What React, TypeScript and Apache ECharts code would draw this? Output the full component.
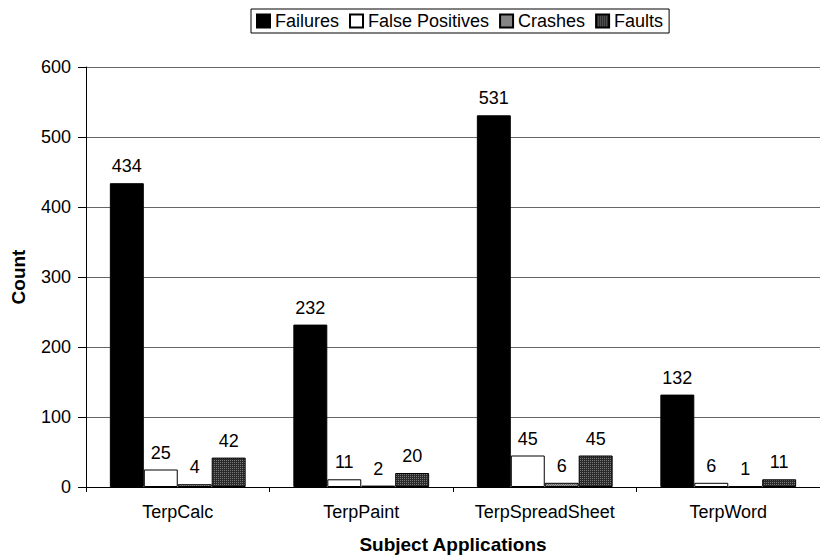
import React, { useEffect, useRef } from "react";
import * as echarts from "echarts";

const categories = ["TerpCalc", "TerpPaint", "TerpSpreadSheet", "TerpWord"];
const seriesNames = ["Failures", "False Positives", "Crashes", "Faults"];
const failures = [434, 232, 531, 132];
const falsePositives = [25, 11, 45, 6];
const crashes = [4, 2, 6, 1];
const faults = [42, 20, 45, 11];
const yTicks = { min: 0, max: 600, interval: 100 };

function makePattern(draw: (ctx: CanvasRenderingContext2D) => void, size: number): string {
  const c = document.createElement("canvas");
  c.width = size;
  c.height = size;
  const ctx = c.getContext("2d")!;
  draw(ctx);
  return c.toDataURL();
}

export default function App() {
  const ref = useRef<HTMLDivElement>(null);
  useEffect(() => {
    if (!ref.current) return;
    const chart = echarts.init(ref.current, undefined, { renderer: "svg" });
    const font = "'Liberation Sans', Arial, sans-serif";

    const crashImg = makePattern((ctx) => {
      ctx.fillStyle = "#a0a0a0";
      ctx.fillRect(0, 0, 2, 2);
      ctx.fillStyle = "#6a6a6a";
      ctx.fillRect(0, 0, 1, 1);
      ctx.fillRect(1, 1, 1, 1);
    }, 2);
    const faultImg = makePattern((ctx) => {
      ctx.fillStyle = "#2a2a2a";
      ctx.fillRect(0, 0, 4, 4);
      ctx.fillStyle = "#7a7a7a";
      ctx.fillRect(0, 0, 1, 1);
      ctx.fillRect(2, 2, 1, 1);
      ctx.fillRect(2, 0, 1, 1);
      ctx.fillRect(0, 2, 1, 1);
    }, 4);

    const colors: any[] = [
      "#000000",
      "#ffffff",
      { image: crashImg, repeat: "repeat" },
      { image: faultImg, repeat: "repeat" },
    ];
    const data = [failures, falsePositives, crashes, faults];

    chart.setOption({
      animation: false,
      textStyle: { fontFamily: font },
      grid: { left: 86, right: -8, top: 67, bottom: 67 },
      legend: {
        data: seriesNames,
        left: 251,
        top: 9,
        orient: "horizontal",
        borderColor: "#000",
        borderWidth: 1,
        padding: [3, 6, 3, 5],
        itemGap: 10,
        itemWidth: 13,
        itemHeight: 13,
        icon: "rect",
        textStyle: { fontSize: 18, color: "#000", fontFamily: font },
      },
      xAxis: {
        type: "category",
        data: categories,
        name: "Subject Applications",
        nameLocation: "middle",
        nameGap: 48,
        nameTextStyle: { fontSize: 19, fontWeight: "bold", color: "#000", fontFamily: font },
        axisLine: { lineStyle: { color: "#000", width: 1 } },
        axisTick: { show: true, length: 5, lineStyle: { color: "#000" } },
        axisLabel: { fontSize: 18, color: "#000", margin: 16, fontFamily: font },
        splitLine: { show: false },
      },
      yAxis: {
        type: "value",
        min: yTicks.min,
        max: yTicks.max,
        interval: yTicks.interval,
        name: "Count",
        nameLocation: "middle",
        nameGap: 58,
        nameTextStyle: { fontSize: 19, fontWeight: "bold", color: "#000", fontFamily: font },
        axisLine: { show: true, lineStyle: { color: "#000", width: 1 } },
        axisTick: { show: true, length: 8, lineStyle: { color: "#000" } },
        axisLabel: { fontSize: 18, color: "#000", margin: 15, fontFamily: font },
        splitLine: { show: true, lineStyle: { color: "#666", width: 1 } },
      },
      series: seriesNames.map((name, i) => ({
        name,
        type: "bar",
        data: data[i],
        barGap: "0%",
        barCategoryGap: "26%",
        itemStyle: { color: colors[i], borderColor: "#000", borderWidth: 1 },
        label: {
          show: true,
          position: "top",
          distance: 8,
          fontSize: 18,
          color: "#000",
          fontFamily: font,
        },
      })),
    });
    return () => chart.dispose();
  }, []);
  return <div ref={ref} style={{ position: "absolute", left: 0, top: 0, width: 820, height: 559 }} />;
}
